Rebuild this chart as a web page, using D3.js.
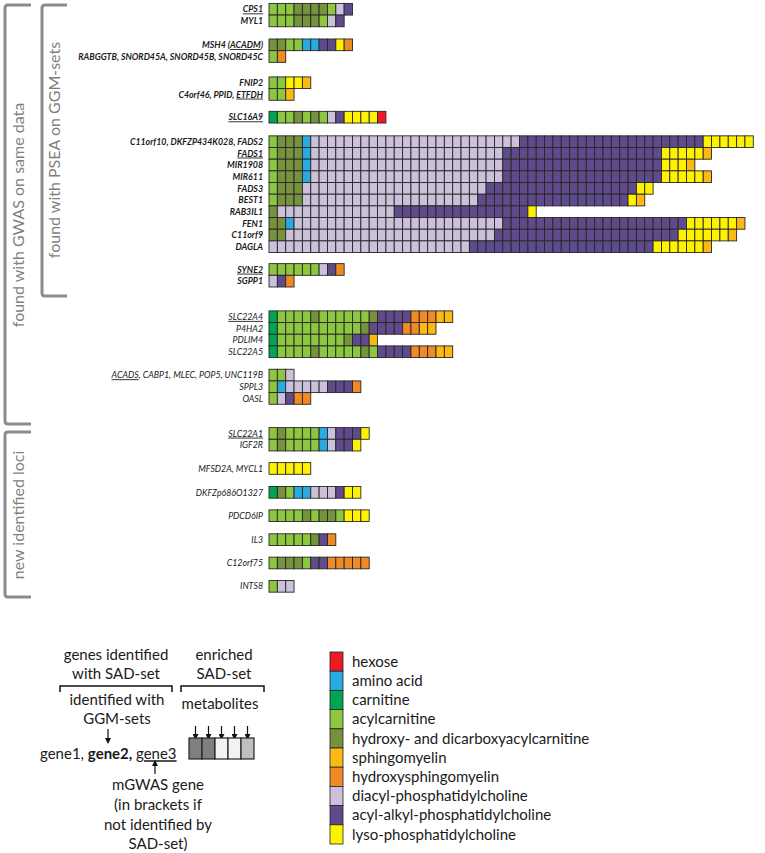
<!DOCTYPE html>
<html><head><meta charset="utf-8">
<script src="https://cdn.jsdelivr.net/npm/d3@7"></script>
<style>
body{margin:0;background:#fff}
svg{display:block}
text{font-family:Lato,"Open Sans",sans-serif}
</style>
</head><body>
<svg id="c" width="765" height="853"></svg>
<script>
// ---------------- DATA ----------------
const categoryCodes = ["H","A","C","a","h","S","O","d","p","L"];
const categoryNames = ["hexose","amino acid","carnitine","acylcarnitine",
  "hydroxy- and dicarboxyacylcarnitine","sphingomyelin","hydroxysphingomyelin",
  "diacyl-phosphatidylcholine","acyl-alkyl-phosphatidylcholine","lyso-phosphatidylcholine"];

// gene labels (_x_ = mGWAS gene, underlined)
const genes = [
  "_CPS1_","MYL1",
  "MSH4 (_ACADM_)","RABGGTB, SNORD45A, SNORD45B, SNORD45C",
  "FNIP2","C4orf46, PPID, _ETFDH_",
  "_SLC16A9_",
  "C11orf10, DKFZP434K028, FADS2","_FADS1_","MIR1908","MIR611","FADS3","BEST1","RAB3IL1","FEN1","C11orf9","DAGLA",
  "_SYNE2_","SGPP1",
  "_SLC22A4_","P4HA2","PDLIM4","SLC22A5",
  "_ACADS_, CABP1, MLEC, POP5, UNC119B","SPPL3","OASL",
  "_SLC22A1_","IGF2R",
  "MFSD2A, MYCL1",
  "DKFZp686O1327",
  "PDCD6IP",
  "IL3",
  "C12orf75",
  "INTS8"
];
// identified with GGM-sets (bold)
const ggmIdentified = [1,1,1,1,1,1,1,1,1,1,1,1,1,1,1,1,1,1,1,0,0,0,0,0,0,0,0,0,0,0,0,0,0,0];
// block membership of each gene row
const blockIds = [0,0,1,1,2,2,3,4,4,4,4,4,4,4,4,4,4,5,5,6,6,6,6,7,7,7,8,8,9,10,11,12,13,14];
// enriched SAD-set metabolites per gene row, run-length: class code + count
const metaboliteRuns = [
  "a3 h4 a1 d1 p1",
  "a3 h3 a1 d1 p1",
  "h2 a2 A2 p2 L1 O1",
  "a1 O1",
  "a2 L2 S1",
  "a2 S1",
  "C1 a2 h1 a1 h1 a1 d1 p1 L4 H1",
  "a1 h3 A1 d25 p22 L6",
  "a1 h3 A1 d23 p19 L5 S1",
  "a1 h3 A1 d23 p19 L3 S1",
  "a1 h3 A1 d23 p19 L5 S1",
  "a1 h3 d22 p18 L2",
  "a1 h3 d21 p18 L1 S1",
  "h1 d14 p16 L1",
  "h2 A1 d25 p22 L6 S1",
  "h2 d25 p22 L6 S1",
  "d24 p22 L6 S1",
  "a6 d1 p1 O1",
  "d1 p1 O1",
  "C1 a4 h1 a6 h1 p4 O3 S2",
  "C1 a10 h1 p4 O2 S2",
  "C1 a8 h1 p2 S1",
  "C1 a4 h1 a5 h1 a1 p4 O3 S2",
  "a2 d1",
  "a1 A1 d5 p3 O1",
  "a1 d1 p1 O2",
  "a1 h1 a4 A1 d1 p3 L1",
  "a1 h1 a4 A1 d1 p2 L1",
  "L5",
  "C1 h1 a1 A2 d3 p1 L2",
  "a4 h1 a1 h2 a1 L3",
  "a5 h1 p1 O1",
  "a1 h3 a1 p2 O5",
  "a1 d2"
];
const groupLabels = ["found with GWAS on same data","found with PSEA on GGM-sets","new identified loci"];
const exampleShades = ["#7f7f7f","#7f7f7f","#f2f2f2","#f2f2f2","#bfbfbf"];

// ---------------- LAYOUT / STYLE ----------------
const palette = ["#ed1c24","#29abe2","#00a651","#8dc63f","#76923c","#fdb913","#f08a24","#ccc1da","#5f4b8b","#fff200"];
const color = d3.scaleOrdinal().domain(categoryCodes).range(palette);
const RH = 11.67, CW = 8.35, X0 = 269, Y0 = 3.4, LABEL_X = 263;
const blockGaps = [0,1.05,1.25,0.95,1.1,0.95,2.05,1,2,1,1.05,1,1.05,1,1];

const rows = genes.map((g,i)=>{
  const cells = [];
  metaboliteRuns[i].split(" ").forEach(tok=>{
    const code = tok[0], n = +tok.slice(1);
    for(let k=0;k<n;k++) cells.push(code);
  });
  return {gene:g, bold:!!ggmIdentified[i], block:blockIds[i], cells};
});
let slot = 0;
rows.forEach((r,i)=>{
  if(i>0){ slot += 1; if(r.block!==rows[i-1].block) slot += blockGaps[r.block]; }
  r.slot = slot;
});
const maxCells = d3.max(rows, r=>r.cells.length);
const x = d3.scaleLinear().domain([0,maxCells]).range([X0, X0+maxCells*CW]);
const y = d3.scaleLinear().domain([0,1]).range([Y0, Y0+RH]);

const svg = d3.select("#c");
svg.append("rect").attr("width",765).attr("height",853).attr("fill","#fff");

// rows
const rowG = svg.append("g").selectAll("g").data(rows).join("g")
  .attr("transform", d=>`translate(0,${y(d.slot)})`);
rowG.selectAll("rect").data(d=>d.cells).join("rect")
  .attr("x",(d,i)=>x(i)).attr("y",0)
  .attr("width",CW).attr("height",RH)
  .attr("fill",d=>color(d)).attr("stroke","#262626").attr("stroke-width",0.9);

// labels
rowG.append("text")
  .attr("x",LABEL_X).attr("y",RH/2).attr("dy","0.36em")
  .attr("text-anchor","end").attr("font-size",8.8)
  .attr("font-style","italic").attr("font-weight",d=>d.bold?700:400)
  .attr("fill","#1a1a1a")
  .each(function(d){
    const t = d3.select(this);
    d.gene.split(/(_[^_]+_)/).filter(s=>s.length).forEach(part=>{
      const u = part.startsWith("_");
      t.append("tspan").text(u?part.slice(1,-1):part)
        .style("text-decoration", u?"underline":"none");
    });
  });

// group brackets
const bracketColor = "#8c8c8c";
function bracket(xv, y1, y2, len){
  svg.append("path")
    .attr("d",`M${xv+len},${y1} L${xv+3},${y1} Q${xv},${y1} ${xv},${y1+3} L${xv},${y2-3} Q${xv},${y2} ${xv+3},${y2} L${xv+len},${y2}`)
    .attr("fill","none").attr("stroke",bracketColor).attr("stroke-width",3);
}
bracket(5,5,424,26);
bracket(42,5,296,25);
bracket(5,432,597,26);
function vlabel(txt, xv, yc){
  svg.append("text").attr("transform",`translate(${xv},${yc}) rotate(-90)`)
    .attr("text-anchor","middle").attr("dy","0.35em")
    .attr("font-size",16).attr("fill","#7f7f7f").text(txt);
}
vlabel(groupLabels[0],18,215);
vlabel(groupLabels[1],54,150);
vlabel(groupLabels[2],18,515);

// ---------------- explanatory legend ----------------
const defs = svg.append("defs");
defs.append("marker").attr("id","ah").attr("viewBox","0 0 10 10")
  .attr("refX",5).attr("refY",5).attr("markerWidth",5).attr("markerHeight",5)
  .attr("orient","auto-start-reverse")
  .append("path").attr("d","M0,0 L10,5 L0,10 z").attr("fill","#111");

const lg = svg.append("g").attr("fill","#1a1a1a").attr("font-size",15);
function ctext(t,xv,yv){ return lg.append("text").attr("x",xv).attr("y",yv).attr("dy","0.35em").attr("text-anchor","middle").text(t); }
ctext("genes identified",116,655);
ctext("with SAD-set",116,674);
ctext("enriched",224,655);
ctext("SAD-set",224,674);
ctext("identified with",117,700);
ctext("GGM-sets",117,719);
ctext("metabolites",220,704);
ctext("mGWAS gene",158,785);
ctext("(in brackets if",158,805);
ctext("not identified by",158,825);
ctext("SAD-set)",158,844);
const gt = lg.append("text").attr("x",40).attr("y",754).attr("dy","0.35em");
gt.append("tspan").text("gene1, ");
gt.append("tspan").attr("font-weight",700).text("gene2, ");
gt.append("tspan").style("text-decoration","underline").text("gene3");

function hbrace(x1,x2,yv){
  svg.append("path").attr("d",`M${x1},${yv+6} L${x1},${yv} L${x2},${yv} L${x2},${yv+6}`)
    .attr("fill","none").attr("stroke","#111").attr("stroke-width",1.5);
}
hbrace(60,172,686);
hbrace(181,264,686);
function arrow(xv,y1,y2){
  svg.append("line").attr("x1",xv).attr("x2",xv).attr("y1",y1).attr("y2",y2)
    .attr("stroke","#111").attr("stroke-width",1.2).attr("marker-end","url(#ah)");
}
arrow(108,729,741);
arrow(155,774,763);
const ex = d3.scaleBand().domain(d3.range(exampleShades.length)).range([189,254]);
exampleShades.forEach((c,i)=>arrow(ex(i)+ex.bandwidth()/2,726,737));
svg.append("g").selectAll("rect").data(exampleShades).join("rect")
  .attr("x",(d,i)=>ex(i)).attr("y",738).attr("width",ex.bandwidth()).attr("height",21)
  .attr("fill",d=>d).attr("stroke","#222").attr("stroke-width",1.2);

// category legend
const ly = d3.scaleBand().domain(categoryCodes).range([652,844]);
const leg = svg.append("g");
leg.selectAll("rect").data(categoryCodes).join("rect")
  .attr("x",330).attr("y",d=>ly(d)).attr("width",13).attr("height",ly.bandwidth())
  .attr("fill",d=>color(d)).attr("stroke","#222").attr("stroke-width",0.8);
leg.selectAll("text").data(categoryCodes).join("text")
  .attr("x",352).attr("y",d=>ly(d)+ly.bandwidth()/2).attr("dy","0.35em")
  .attr("font-size",15).attr("fill","#1a1a1a")
  .text((d,i)=>categoryNames[i]);
</script>
</body></html>
